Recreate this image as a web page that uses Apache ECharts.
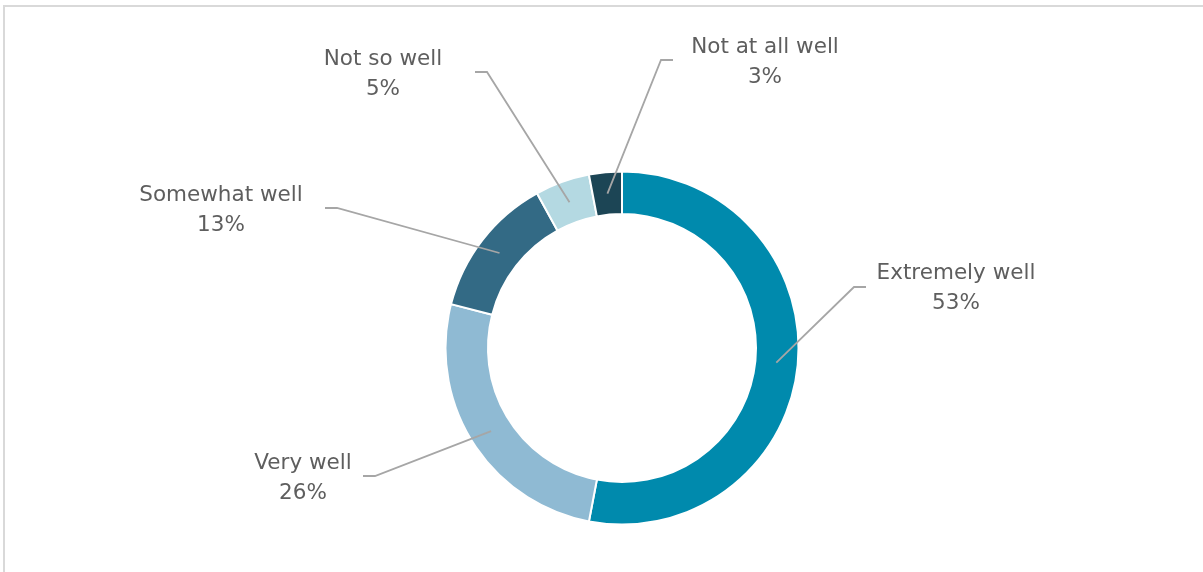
<!DOCTYPE html>
<html>
<head>
<meta charset="utf-8">
<style>
  html, body { margin: 0; padding: 0; background: #ffffff; }
  #chart { width: 1203px; height: 572px; }
</style>
<script src="https://cdn.jsdelivr.net/npm/echarts@6/dist/echarts.min.js"></script>
</head>
<body>
<div id="chart"></div>
<script>
// Survey answers and their shares (percent)
const categories = ['Extremely well', 'Very well', 'Somewhat well', 'Not so well', 'Not at all well'];
const shares = [53, 26, 13, 5, 3];
const sliceColors = ['#008AAD', '#8FBAD3', '#336A85', '#B4D9E2', '#1C4555'];

// Where each two-line label sits, and where its leader line ends next to it
const labelPlacement = [
  { x: 956, y: 288, lineX: 866, lineY: 287, side: -1 },
  { x: 303, y: 478, lineX: 363, lineY: 476, side: 1 },
  { x: 221, y: 210, lineX: 325, lineY: 208, side: 1 },
  { x: 383, y: 74, lineX: 475, lineY: 72, side: 1 },
  { x: 765, y: 62, lineX: 673, lineY: 60, side: -1 }
];

const centre = [622, 348];

const pieData = categories.map((name, i) => ({
  name: name,
  value: shares[i],
  itemStyle: { color: sliceColors[i] }
}));

const chart = echarts.init(document.getElementById('chart'), null, { renderer: 'canvas' });

chart.setOption({
  backgroundColor: '#ffffff',
  animation: false,
  graphic: [{
    // chart-area frame (its right and bottom edges run off the page)
    type: 'rect',
    shape: { x: 4, y: 6, width: 1230, height: 600 },
    style: { fill: 'none', stroke: '#D9D9D9', lineWidth: 2 },
    silent: true,
    z: 0
  }],
  series: [
    {
      // the ring itself
      type: 'pie',
      center: centre,
      radius: [134, 176.5],
      startAngle: 90,
      clockwise: true,
      silent: true,
      label: { show: false },
      labelLine: { show: false },
      itemStyle: { borderColor: '#ffffff', borderWidth: 2 },
      data: pieData,
      z: 2
    },
    {
      // transparent twin reaching mid-ring: carries labels and leader lines
      type: 'pie',
      center: centre,
      radius: [0, 155],
      startAngle: 90,
      clockwise: true,
      silent: true,
      avoidLabelOverlap: false,
      itemStyle: { color: 'rgba(0,0,0,0)' },
      data: categories.map((name, i) => ({ name: name, value: shares[i] })),
      label: {
        show: true,
        position: 'outside',
        formatter: p => p.name + '\n' + p.value + '%',
        fontFamily: 'DejaVu Sans',
        fontSize: 21.5,
        lineHeight: 30,
        color: '#5E5E5E'
      },
      labelLine: {
        show: true,
        length: 20,
        length2: 12,
        lineStyle: { color: '#A6A6A6', width: 1.8 }
      },
      labelLayout: function (params) {
        const pl = labelPlacement[params.dataIndex];
        const start = params.labelLinePoints ? params.labelLinePoints[0] : [pl.lineX, pl.lineY];
        const bend = [pl.lineX + pl.side * 12, pl.lineY];
        return {
          x: pl.x,
          y: pl.y,
          align: 'center',
          verticalAlign: 'middle',
          labelLinePoints: [start, bend, [pl.lineX, pl.lineY]]
        };
      },
      z: 3
    }
  ]
});
</script>
</body>
</html>
